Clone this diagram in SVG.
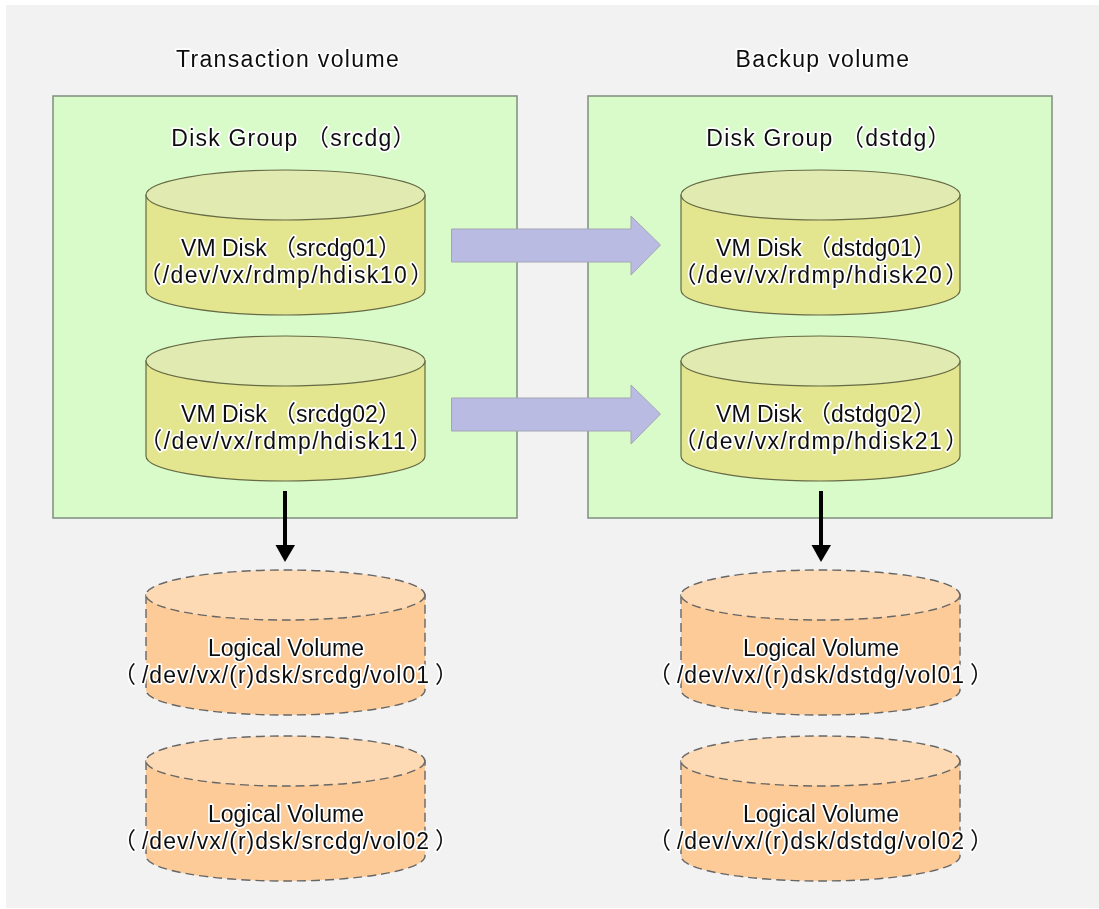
<svg xmlns="http://www.w3.org/2000/svg" width="1099" height="909" viewBox="0 0 1099 909">
<style>
text{font-family:"Liberation Sans","Noto Sans CJK JP",sans-serif;font-size:23px;fill:#111;text-anchor:middle;paint-order:stroke;stroke:#fff;stroke-width:3.500px;stroke-linejoin:round}
.title{letter-spacing:1.350px}
.gl{letter-spacing:1.200px}
.path{letter-spacing:1.400px}
.lvpath{letter-spacing:1px}
.group{fill:#d9fbca;stroke:#7f8f7f;stroke-width:1.5}
.vm{fill:#e4e68f;stroke:#666a44;stroke-width:1.2}
.vmtop{fill:#e1ebb1;stroke:#666a44;stroke-width:1.2}
.lv{fill:#fdcb97;stroke:#666;stroke-width:1.4;stroke-dasharray:9 5}
.lvtop{fill:#fdd9b4;stroke:#666;stroke-width:1.4;stroke-dasharray:9 5}
.big{fill:#b9bbe2;stroke:#a5a5b5;stroke-width:1}
.edge{stroke:#000;stroke-width:4;fill:none}
</style>
<defs>
<filter id="soft" filterUnits="userSpaceOnUse" x="0" y="0" width="1099" height="909"><feGaussianBlur stdDeviation="0.6"/></filter>
<g id="vmcyl"><path class="vm" d="M0 25V120A139.500 25 0 0 0 279 120V25Z"/><ellipse class="vmtop" cx="139.500" cy="25" rx="139.500" ry="25"/></g>
<g id="lvcyl"><path class="lv" d="M0 25V120A139.500 25 0 0 0 279 120V25Z"/><ellipse class="lvtop" cx="139.500" cy="25" rx="139.500" ry="25"/></g>
</defs>
<g filter="url(#soft)">
<rect x="6" y="5" width="1093" height="903" fill="#f2f2f2"/>
<g id="title-left"><text class="title" x="288" y="67">Transaction volume</text></g>
<g id="title-right"><text class="title" x="823" y="67">Backup volume</text></g>
<g id="group-src"><rect class="group" x="53" y="96" width="464" height="422"/><text class="gl" x="294" y="146">Disk Group （srcdg）</text></g>
<g id="group-dst"><rect class="group" x="588" y="96" width="464" height="422"/><text class="gl" x="829" y="146">Disk Group （dstdg）</text></g>
<g id="vm-src1"><use href="#vmcyl" x="146" y="170"/><text x="291" y="256">VM Disk （srcdg01）</text><text class="path" x="286.500" y="283">（/dev/vx/rdmp/hdisk10<tspan dx="2">）</tspan></text></g>
<g id="vm-src2"><use href="#vmcyl" x="146" y="336"/><text x="291" y="422">VM Disk （srcdg02）</text><text class="path" x="286.500" y="449">（/dev/vx/rdmp/hdisk11<tspan dx="2">）</tspan></text></g>
<g id="vm-dst1"><use href="#vmcyl" x="681" y="170"/><text x="826" y="256">VM Disk （dstdg01）</text><text class="path" x="821.500" y="283">（/dev/vx/rdmp/hdisk20<tspan dx="2">）</tspan></text></g>
<g id="vm-dst2"><use href="#vmcyl" x="681" y="336"/><text x="826" y="422">VM Disk （dstdg02）</text><text class="path" x="821.500" y="449">（/dev/vx/rdmp/hdisk21<tspan dx="2">）</tspan></text></g>
<g id="lv-src1"><use href="#lvcyl" x="146" y="570"/><text x="286" y="656">Logical Volume</text><text class="lvpath" x="286" y="683">（<tspan dx="5">/dev/vx/(r)dsk/srcdg/vol01</tspan><tspan dx="5">）</tspan></text></g>
<g id="lv-src2"><use href="#lvcyl" x="146" y="736"/><text x="286" y="822">Logical Volume</text><text class="lvpath" x="286" y="849">（<tspan dx="5">/dev/vx/(r)dsk/srcdg/vol02</tspan><tspan dx="5">）</tspan></text></g>
<g id="lv-dst1"><use href="#lvcyl" x="681" y="570"/><text x="821" y="656">Logical Volume</text><text class="lvpath" x="821" y="683">（<tspan dx="5">/dev/vx/(r)dsk/dstdg/vol01</tspan><tspan dx="5">）</tspan></text></g>
<g id="lv-dst2"><use href="#lvcyl" x="681" y="736"/><text x="821" y="822">Logical Volume</text><text class="lvpath" x="821" y="849">（<tspan dx="5">/dev/vx/(r)dsk/dstdg/vol02</tspan><tspan dx="5">）</tspan></text></g>
<g id="connectors">
<path class="big" d="M451.500 229H631V216L660.500 245L631 275V262H451.500Z"/>
<path class="big" d="M451.500 398H631V385L660.500 414L631 444V431H451.500Z"/>
<path class="edge" d="M285 491V546"/><path d="M275.500 545H295L285 562Z"/>
<path class="edge" d="M821 491V546"/><path d="M811.500 545H831L821 562Z"/>
</g>
</g>
</svg>
